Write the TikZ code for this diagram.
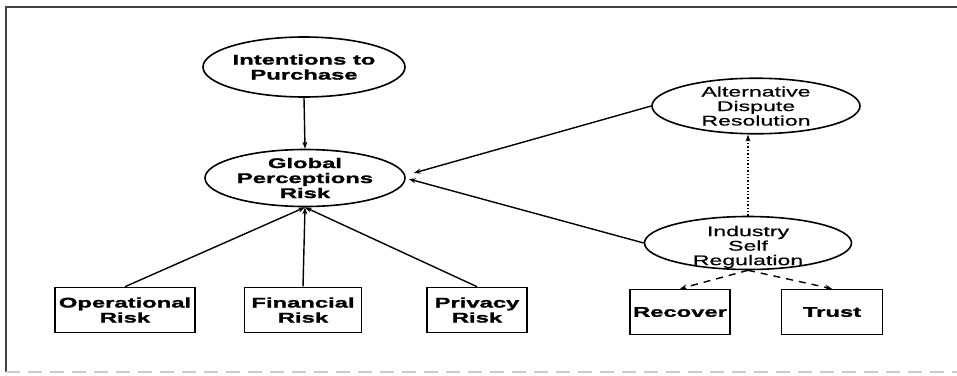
\documentclass[tikz,border=0pt]{standalone}
\usepackage{fontspec}
\setmainfont{Liberation Sans}
\newfontfamily\bfnt[FakeStretch=1.7,FakeBold=1.5]{Liberation Sans Bold}
\newfontfamily\rgfnt[FakeStretch=1.65,FakeBold=0.6]{Liberation Sans}
\usetikzlibrary{shapes.geometric,arrows.meta,calc}
\tikzset{
  ell/.style={ellipse,draw,line width=1.6pt,inner sep=0pt,align=center},
  boxnode/.style={rectangle,draw,line width=1.6pt,inner sep=0pt,align=center,font=\bfnt\fontsize{14}{15}\selectfont},
  bold14/.style={font=\bfnt\fontsize{14}{15}\selectfont},
  reg14/.style={font=\rgfnt\fontsize{14}{14.5}\selectfont},
  conn/.style={line width=1.4pt,-{Stealth[length=7pt,width=5pt]}},
}
\begin{document}
\begin{tikzpicture}[x=1pt,y=-1pt]
\useasboundingbox (0,0) rectangle (957,375);
% frame
\draw[line width=1.4pt,black!75] (957,7) -- (6,7) -- (6,372);
\draw[line width=1.4pt,black!20,dash pattern=on 14pt off 8pt] (6,372) -- (957,372);
% nodes
\node[ell,bold14,minimum width=202pt,minimum height=60pt] (I) at (304,67) {Intentions to\\Purchase};
\node[ell,bold14,minimum width=200pt,minimum height=57pt] (G) at (305,178) {Global\\Perceptions\\Risk};
\node[ell,reg14,minimum width=208pt,minimum height=55pt] (A) at (756,106) {Alternative\\Dispute\\Resolution};
\node[ell,reg14,minimum width=207pt,minimum height=53pt] (S) at (748,243) {};
\node[reg14,align=center] (St) at (748,247) {Industry\\Self\\Regulation};
\node[boxnode,minimum width=140pt,minimum height=45pt] (O) at (125,310) {Operational\\Risk};
\node[boxnode,minimum width=117pt,minimum height=45pt] (F) at (303,310) {Financial\\Risk};
\node[boxnode,minimum width=100pt,minimum height=45pt] (P) at (477,310) {Privacy\\Risk};
\node[boxnode,minimum width=100pt,minimum height=45pt] (R) at (680,312) {Recover};
\node[boxnode,minimum width=101pt,minimum height=45pt] (T) at (832,312) {Trust};
% connectors
\draw[conn] (I.south) -- (G.north);
\draw[conn] (O.north) -- (G.south);
\draw[conn] (F.north) -- (G.south);
\draw[conn] (P.north) -- (G.south);
\draw[conn] (A.west) -- ($(G.east)+(8,-5)$);
\draw[conn] (S.west) -- ($(G.east)+(3,1)$);
\draw[conn,dotted] (S.north) -- (S.north |- A.south);
\draw[conn,dash pattern=on 7pt off 6pt] (S.south) -- (R.north);
\draw[conn,dash pattern=on 7pt off 6pt] (S.south) -- (T.north);
\end{tikzpicture}
\end{document}
